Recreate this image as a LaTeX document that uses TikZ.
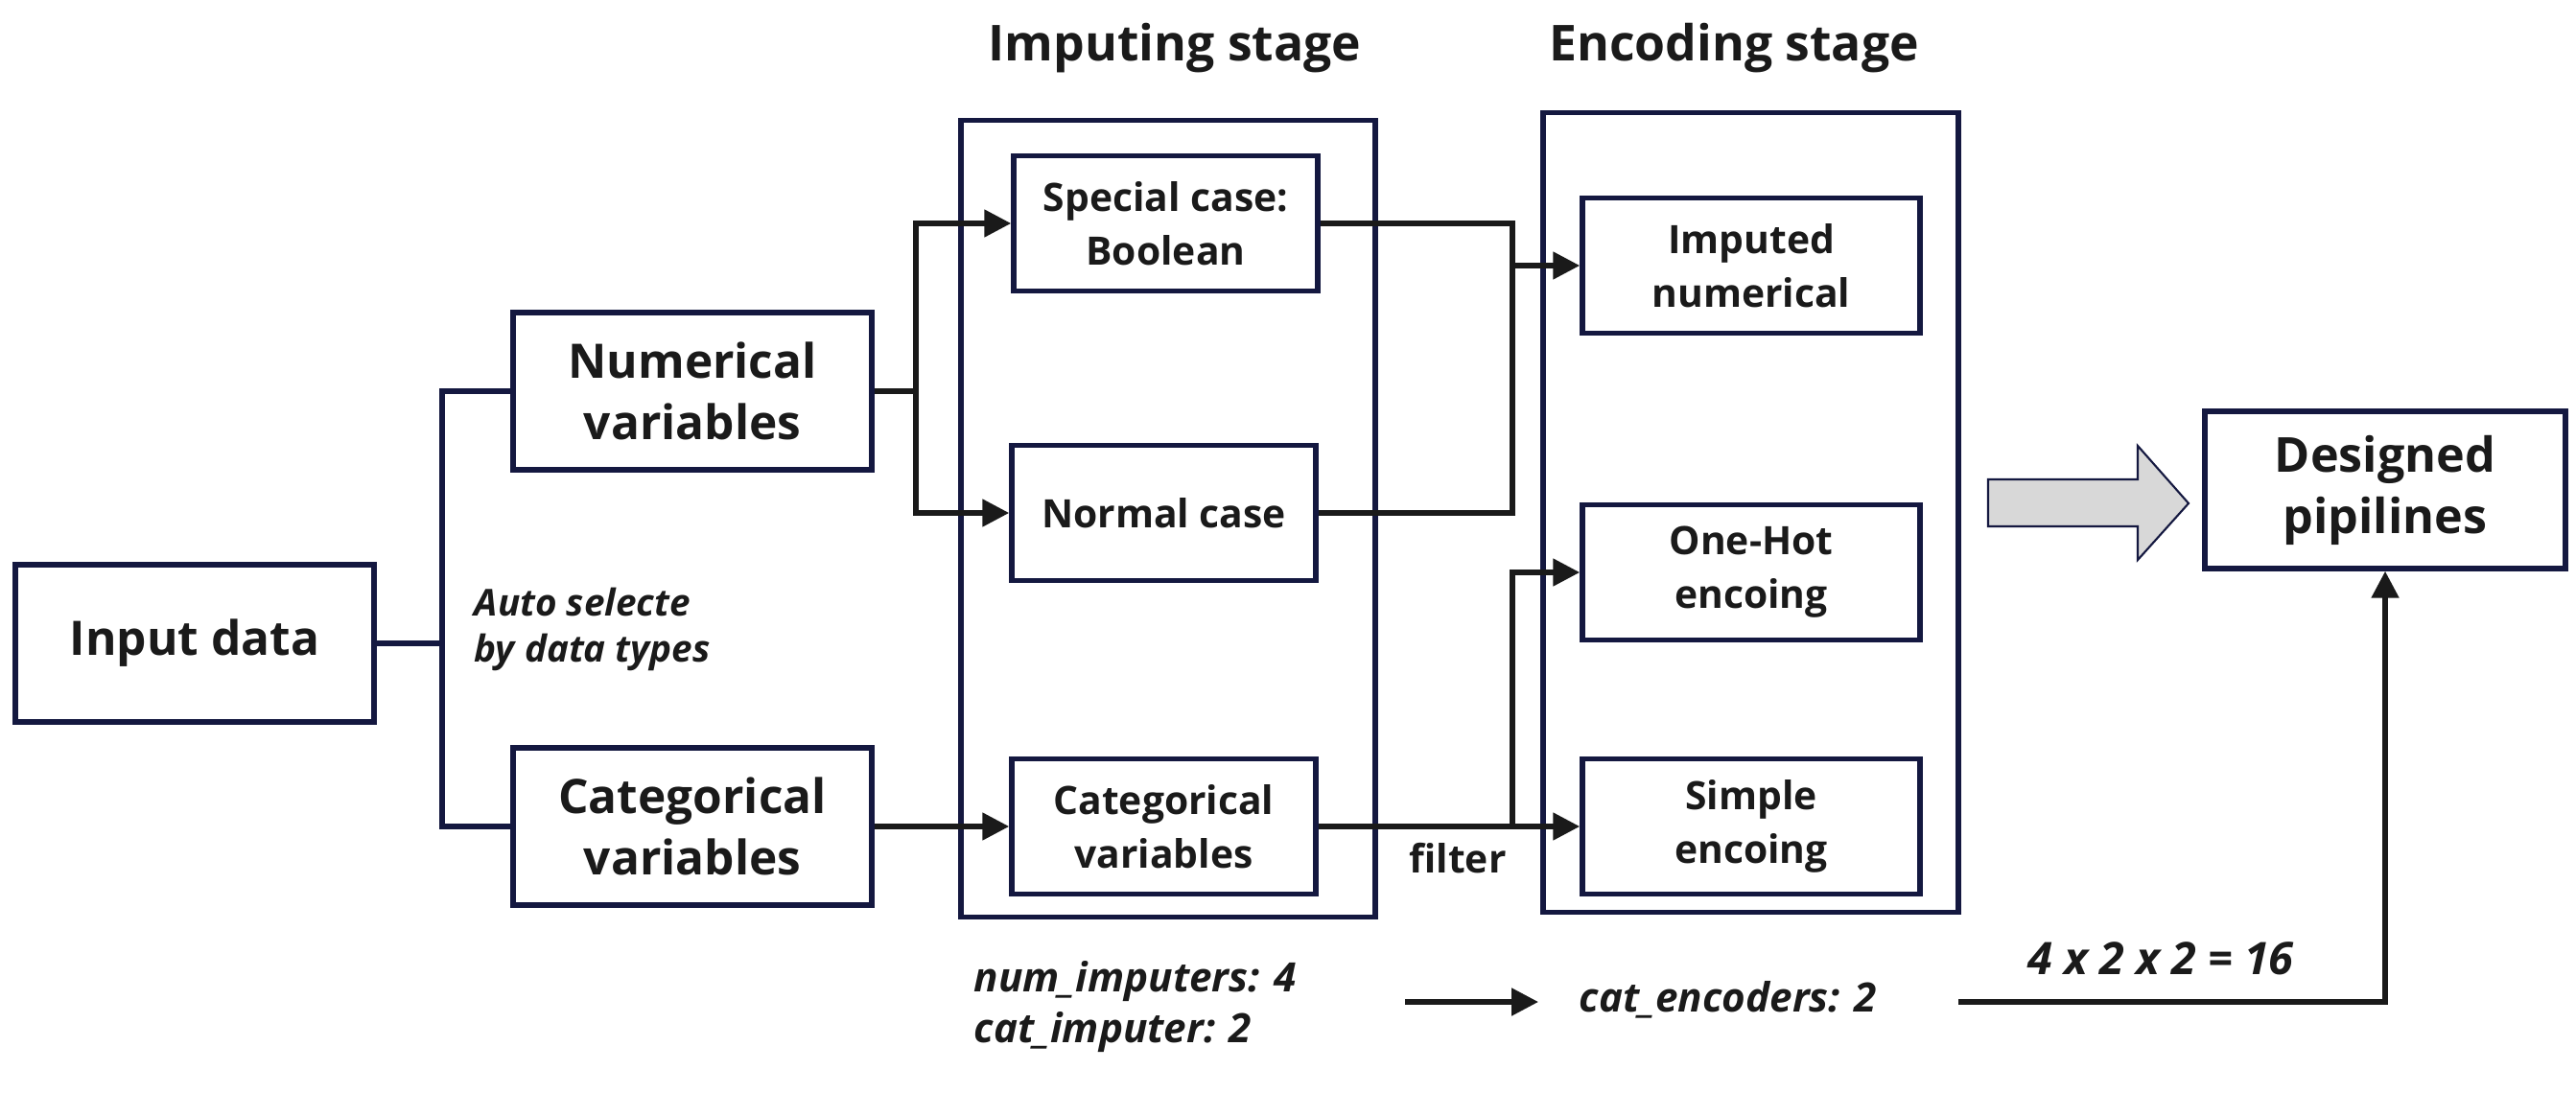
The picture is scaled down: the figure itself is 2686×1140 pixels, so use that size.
\documentclass[tikz,border=0pt]{standalone}
\usepackage{fontspec}
\setmainfont{Open Sans}
\usetikzlibrary{arrows.meta}
\definecolor{navy}{RGB}{20,24,64}
\definecolor{ink}{RGB}{26,26,26}
\definecolor{arrowfill}{RGB}{216,216,216}
\begin{document}
\begin{tikzpicture}[x=0.01cm,y=-0.01cm,
  bigbox/.style={draw=navy,line width=1.55pt,minimum width=3.74cm,minimum height=1.64cm,align=center,font=\bfseries\fontsize{14.1}{18.2}\selectfont,text=ink,inner sep=0pt},
  smallbox/.style={draw=navy,line width=1.55pt,minimum width=3.17cm,minimum height=1.41cm,align=center,font=\bfseries\fontsize{11.6}{15.9}\selectfont,text=ink,inner sep=0pt},
  encbox/.style={smallbox,minimum width=3.52cm},
  stagebox/.style={draw=navy,line width=1.55pt,inner sep=0pt},
  title/.style={font=\bfseries\fontsize{14.7}{17}\selectfont,text=ink,inner sep=0pt},
  conn/.style={draw=ink,line width=1.5pt},
  branch/.style={draw=navy,line width=1.5pt},
  arr/.style={conn,-{Triangle[length=7.9pt,width=7.9pt]}},
  lab/.style={font=\bfseries\itshape\fontsize{11}{13.7}\selectfont,text=ink,inner sep=0pt},
  biglab/.style={lab,font=\bfseries\itshape\fontsize{12}{14}\selectfont},
  plain/.style={font=\bfseries\fontsize{11.6}{14}\selectfont,text=ink,inner sep=0pt},
]
\useasboundingbox (0,0) rectangle (2686,1140);

% stage containers
\node[stagebox,minimum width=4.32cm,minimum height=8.30cm] (imp) at (1218,541) {};
\node[stagebox,minimum width=4.33cm,minimum height=8.33cm] (enc) at (1825.5,534.5) {};

% titles
\node[title,anchor=base] (t1) at (1225,64) {Imputing stage};
\node[title,anchor=base] (t2) at (1808,64) {Encoding stage};

% boxes
\node[bigbox] (inp) at (203,671) {Input data};
\node[bigbox] (num) at (722,408) {Numerical\\variables};
\node[bigbox] (cat) at (722,862) {Categorical\\variables};
\node[smallbox] (spec) at (1215.5,233) {Special case:\\Boolean};
\node[smallbox] (norm) at (1213.5,535) {Normal case};
\node[smallbox] (catimp) at (1213.5,862) {Categorical\\variables};
\node[encbox] (impnum) at (1826,277) {Imputed\\numerical};
\node[encbox] (onehot) at (1826,597) {One-Hot\\encoing};
\node[encbox] (simple) at (1826,862) {Simple\\encoing};
\node[bigbox,minimum width=3.76cm,font=\bfseries\fontsize{14.3}{18.2}\selectfont] (des) at (2487,511) {Designed\\pipilines};

% labels
\node[lab,anchor=base west] (auto1) at (494,642) {Auto selecte};
\node[lab,anchor=base west] (auto2) at (494,690) {by data types};
\node[plain,anchor=base] (filt) at (1520,910) {filter};
\node[biglab,anchor=base west] (ni) at (1015,1034) {num\_imputers: 4};
\node[biglab,anchor=base west] (ci) at (1015,1087) {cat\_imputer: 2};
\node[biglab,anchor=base west] (ce) at (1646,1055) {cat\_encoders: 2};
\node[lab,anchor=base,font=\bfseries\itshape\fontsize{13.3}{15}\selectfont] (prod) at (2253,1016) {4 x 2 x 2 = 16};

% coordinates
\coordinate (b1) at (461,671);
\coordinate (b2) at (955,408);
\coordinate (b3) at (1577,233);
\coordinate (b4) at (1577,862);
\coordinate (s1) at (1465,1045);
\coordinate (s2) at (1604,1045);
\coordinate (s3) at (2042,1045);

% left branch
\draw[branch] (inp.east) -- (b1);
\draw[branch] (num.west) -| (b1) |- (cat.west);

% numerical split
\draw[conn] (num.east) -- (b2);
\draw[arr] (b2) |- (spec.west);
\draw[arr] (b2) |- (norm.west);

% categorical to imputer
\draw[arr] (cat.east) -- (catimp.west);

% merge to imputed numerical
\draw[conn] (spec.east) -- (b3) |- (norm.east);
\draw[arr] (b3 |- impnum.west) -- (impnum.west);

% categorical filter
\draw[arr] (catimp.east) -- (simple.west);
\draw[arr] (b4) |- (onehot.west);

% bottom arrows
\draw[arr] (s1) -- (s2);
\draw[arr] (s3) -| (des.south);

% block arrow
\draw[draw=navy,line width=0.6pt,fill=arrowfill] (2073,500) -- (2229,500) -- (2229,465) -- (2282,525) -- (2229,584) -- (2229,549) -- (2073,549) -- cycle;
\end{tikzpicture}
\end{document}
